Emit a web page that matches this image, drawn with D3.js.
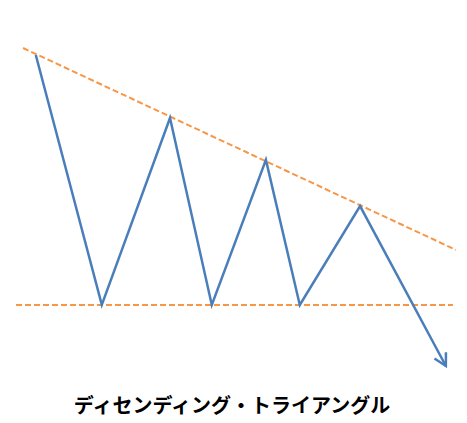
<!DOCTYPE html>
<html>
<head>
<meta charset="utf-8">
<script src="https://cdn.jsdelivr.net/npm/d3@7"></script>
<style>
  html, body { margin: 0; padding: 0; background: #fff; }
</style>
</head>
<body>
<div id="chart"></div>
<script>
// price path (time units, price units)
var pathTime  = [4.5, 19.5, 35, 44.5, 56.8, 64.5, 78.2, 97.7];
var pathPrice = [97.8, 19.2, 78, 19.2, 64.8, 19.2, 50.3, 0];

// resistance (descending) and support (flat) lines
var resistTime  = [1.6, 100];
var resistPrice = [100, 36.5];
var supportTime  = [0, 99.3];
var supportPrice = [19.2, 19.2];

var title = "ディセンディング・トライアングル";

var width = 467, height = 423;

var svg = d3.select("#chart").append("svg")
    .attr("width", width)
    .attr("height", height);

var x = d3.scaleLinear().domain([0, 100]).range([16, 456]);
var y = d3.scaleLinear().domain([0, 100]).range([366, 48]);

var line = d3.line()
    .x(function(d) { return x(d[0]); })
    .y(function(d) { return y(d[1]); });

// open arrowhead
svg.append("defs").append("marker")
    .attr("id", "arrow")
    .attr("markerUnits", "userSpaceOnUse")
    .attr("viewBox", "-14 -8 16 16")
    .attr("refX", 0)
    .attr("refY", 0)
    .attr("markerWidth", 16)
    .attr("markerHeight", 16)
    .attr("orient", "auto")
    .append("path")
    .attr("d", "M-12,-6.5 L0,0 L-12,6.5")
    .style("fill", "none")
    .style("stroke", "#4a7ebb")
    .style("stroke-width", 2.5);

// trend lines
svg.append("path")
    .datum(d3.zip(resistTime, resistPrice))
    .attr("d", line)
    .style("fill", "none")
    .style("stroke", "#f79646")
    .style("stroke-width", 2)
    .style("stroke-dasharray", "6,3");

svg.append("path")
    .datum(d3.zip(supportTime, supportPrice))
    .attr("d", line)
    .style("fill", "none")
    .style("stroke", "#f79646")
    .style("stroke-width", 2)
    .style("stroke-dasharray", "6,3");

// price zigzag
svg.append("path")
    .datum(d3.zip(pathTime, pathPrice))
    .attr("d", line)
    .style("fill", "none")
    .style("stroke", "#4a7ebb")
    .style("stroke-width", 2.5)
    .style("stroke-linejoin", "miter")
    .attr("marker-end", "url(#arrow)");

svg.append("text")
    .attr("x", 232)
    .attr("y", 413)
    .attr("text-anchor", "middle")
    .text(title)
    .style("font-family", "'Noto Sans CJK JP', sans-serif")
    .style("font-weight", "bold")
    .style("font-size", "20px")
    .style("fill", "#000");
</script>
</body>
</html>
